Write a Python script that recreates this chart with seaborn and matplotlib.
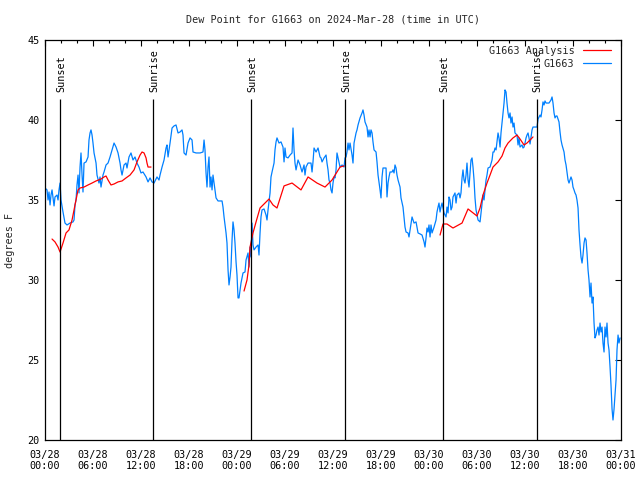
import numpy as np
import pandas as pd
import matplotlib
matplotlib.use("Agg")
import matplotlib.pyplot as plt
import matplotlib.dates as mdates
from matplotlib.lines import Line2D
import seaborn as sns

# ---------------- data (hours since 2024-03-28 00:00 UTC, deg F) ----------------
obs_hours = [0.0, 0.25, 0.38, 0.5, 0.63, 0.75, 0.88, 1.13, 1.25, 1.5, 1.63, 1.75, 1.88, 2.0, 2.25, 2.5, 2.75, 3.13, 3.5, 3.63,
             3.75, 3.88, 4.0, 4.13, 4.25, 4.38, 4.5, 4.63, 4.75, 4.88, 5.13, 5.38, 5.5, 5.63, 5.75, 5.88, 6.0, 6.13, 6.38, 6.5,
             6.75, 6.88, 7.0, 7.25, 7.38, 7.63, 7.88, 8.13, 8.38, 8.63, 8.88, 9.13, 9.38, 9.5, 9.63, 9.88, 10.13, 10.25, 10.5, 10.75,
             11.0, 11.25, 11.5, 11.75, 12.0, 12.25, 12.63, 12.88, 13.13, 13.38, 13.63, 14.0, 14.25, 14.38, 14.63, 14.88, 15.13, 15.25, 15.38, 15.63,
             15.88, 16.13, 16.38, 16.63, 16.88, 17.13, 17.25, 17.38, 17.63, 17.88, 18.13, 18.38, 18.5, 18.88, 19.38, 19.75, 19.88, 20.0, 20.13, 20.25,
             20.38, 20.5, 20.63, 20.75, 20.88, 21.0, 21.13, 21.38, 21.63, 22.13, 22.25, 22.38, 22.5, 22.63, 22.75, 22.88, 23.0, 23.13, 23.25, 23.38,
             23.5, 23.63, 23.75, 23.88, 24.0, 24.13, 24.25, 24.38, 24.5, 24.75, 25.0, 25.13, 25.38, 25.5, 25.63, 25.75, 25.88, 26.0, 26.13, 26.38,
             26.63, 26.75, 26.88, 27.0, 27.13, 27.38, 27.63, 27.75, 27.88, 28.13, 28.25, 28.38, 28.63, 28.75, 28.88, 29.0, 29.25, 29.5, 29.75, 29.88,
             30.0, 30.13, 30.38, 30.63, 30.88, 31.0, 31.13, 31.25, 31.38, 31.63, 31.88, 32.13, 32.38, 32.5, 32.63, 32.88, 33.25, 33.38, 33.5, 33.63,
             33.75, 33.88, 34.13, 34.38, 34.5, 34.63, 34.88, 35.13, 35.25, 35.38, 35.5, 35.63, 35.75, 35.88, 36.0, 36.13, 36.25, 36.38, 36.5, 36.63,
             36.88, 37.13, 37.38, 37.5, 37.63, 37.75, 37.88, 38.0, 38.13, 38.38, 38.5, 38.63, 38.88, 39.0, 39.13, 39.38, 39.63, 39.75, 39.88, 40.0,
             40.25, 40.38, 40.5, 40.63, 40.75, 40.88, 41.0, 41.13, 41.38, 41.5, 41.63, 41.75, 41.88, 42.0, 42.13, 42.25, 42.63, 42.75, 42.88, 43.0,
             43.13, 43.38, 43.5, 43.63, 43.75, 43.88, 44.0, 44.13, 44.38, 44.5, 44.75, 44.88, 45.0, 45.13, 45.38, 45.5, 45.63, 45.88, 46.0, 46.13,
             46.38, 46.5, 46.63, 46.88, 47.13, 47.38, 47.5, 47.63, 47.75, 47.88, 48.0, 48.13, 48.25, 48.38, 48.63, 48.88, 49.0, 49.13, 49.25, 49.38,
             49.5, 49.63, 49.88, 50.13, 50.25, 50.38, 50.5, 50.63, 50.75, 50.88, 51.0, 51.25, 51.38, 51.5, 51.75, 51.88, 52.0, 52.13, 52.25, 52.38,
             52.5, 52.63, 52.75, 52.88, 53.0, 53.13, 53.25, 53.38, 53.5, 53.63, 53.75, 53.88, 54.13, 54.38, 54.5, 54.63, 54.75, 54.88, 55.0, 55.13,
             55.25, 55.38, 55.63, 55.88, 56.0, 56.13, 56.25, 56.38, 56.5, 56.63, 56.75, 56.88, 57.0, 57.13, 57.25, 57.38, 57.5, 57.63, 57.75, 57.88,
             58.0, 58.13, 58.25, 58.38, 58.5, 58.63, 58.75, 59.0, 59.13, 59.25, 59.38, 59.63, 59.75, 59.88, 60.0, 60.13, 60.25, 60.38, 60.5, 60.63,
             60.88, 61.0, 61.5, 61.63, 61.88, 62.0, 62.13, 62.25, 62.38, 62.5, 62.63, 63.0, 63.25, 63.38, 63.5, 63.63, 63.75, 63.88, 64.0, 64.25,
             64.38, 64.5, 64.63, 64.88, 65.0, 65.13, 65.25, 65.38, 65.5, 65.63, 65.75, 65.88, 66.0, 66.13, 66.25, 66.38, 66.5, 66.63, 66.75, 66.88,
             67.0, 67.13, 67.25, 67.38, 67.5, 67.63, 67.75, 67.88, 68.0, 68.13, 68.25, 68.38, 68.5, 68.63, 68.75, 68.88, 69.0, 69.13, 69.25, 69.38,
             69.5, 69.63, 69.75, 69.88, 70.0, 70.13, 70.25, 70.38, 70.5, 70.63, 70.75, 70.88, 71.0, 71.13, 71.25, 71.38, 71.5, 71.63, 71.75, 71.88]
obs_values = [35.75, 35.63, 35.0, 35.5, 34.69, 35.31, 35.63, 34.63, 35.19, 35.31, 35.0, 35.63, 36.06, 35.0, 34.25, 33.56, 33.44, 33.56, 33.63, 33.75,
              34.69, 35.0, 35.94, 36.56, 35.44, 37.06, 37.94, 36.56, 35.5, 37.31, 37.38, 37.69, 38.75, 39.19, 39.38, 39.06, 38.56, 37.94, 37.31, 36.56,
              36.06, 36.44, 35.81, 36.56, 36.75, 37.19, 37.31, 37.69, 38.13, 38.56, 38.31, 37.94, 37.31, 36.88, 36.56, 37.19, 37.31, 37.0, 37.69, 37.94,
              37.5, 37.69, 37.31, 37.06, 36.69, 36.75, 36.44, 36.13, 36.38, 36.13, 36.06, 36.44, 36.25, 36.56, 37.06, 37.5, 38.25, 38.44, 37.69, 38.56,
              39.5, 39.63, 39.69, 39.19, 39.25, 39.38, 39.06, 37.94, 37.81, 38.56, 38.88, 38.75, 38.0, 37.94, 37.94, 38.0, 38.75, 38.13, 36.69, 35.81,
              37.06, 37.69, 35.81, 36.44, 35.63, 36.56, 36.06, 35.13, 34.94, 34.94, 34.56, 33.94, 33.44, 32.94, 32.31, 30.63, 29.69, 30.19, 30.81, 32.5,
              33.63, 33.13, 32.31, 31.13, 30.31, 28.88, 28.88, 29.38, 29.81, 30.44, 30.5, 31.25, 31.69, 30.81, 32.06, 31.44, 33.56, 32.19, 31.88, 32.06,
              32.19, 31.56, 32.94, 33.94, 34.38, 34.44, 34.06, 33.75, 34.38, 35.44, 36.44, 36.75, 37.31, 38.13, 38.63, 38.88, 38.56, 38.63, 38.31, 37.38,
              38.25, 37.69, 37.63, 37.81, 37.94, 39.5, 38.13, 37.31, 36.88, 37.5, 37.19, 36.75, 37.19, 36.56, 37.06, 37.31, 37.31, 36.75, 37.38, 38.25,
              38.13, 38.0, 38.25, 37.69, 37.63, 37.38, 37.63, 37.81, 37.31, 36.88, 36.25, 36.06, 35.63, 35.44, 36.06, 36.44, 36.38, 36.88, 37.94, 37.63,
              37.06, 37.19, 37.06, 37.63, 37.69, 38.0, 38.56, 38.13, 38.56, 37.81, 37.31, 38.56, 39.19, 39.38, 39.69, 40.13, 40.44, 40.63, 40.31, 39.88,
              39.56, 38.94, 39.38, 38.94, 39.38, 39.19, 38.63, 38.13, 38.0, 37.38, 36.56, 36.13, 35.63, 35.13, 36.44, 37.0, 37.0, 35.19, 36.06, 36.44,
              36.75, 36.75, 36.88, 36.69, 37.19, 37.0, 36.56, 36.25, 35.81, 35.13, 34.56, 33.94, 33.31, 33.0, 32.94, 32.69, 33.13, 33.94, 33.75, 33.56,
              33.63, 33.31, 32.94, 32.88, 32.81, 32.38, 32.06, 32.63, 33.25, 33.0, 33.44, 32.69, 33.44, 32.94, 33.31, 33.75, 34.25, 34.56, 34.81, 34.25,
              34.56, 34.81, 34.19, 33.94, 34.56, 34.19, 35.19, 35.0, 34.38, 34.56, 35.19, 35.44, 34.81, 35.31, 35.44, 35.13, 35.44, 36.38, 36.88, 36.25,
              36.06, 36.56, 37.31, 36.25, 35.81, 36.69, 37.5, 37.63, 37.06, 36.25, 35.13, 34.38, 33.75, 33.63, 34.19, 34.81, 35.31, 35.0, 35.63, 36.25,
              36.56, 37.0, 37.06, 37.5, 38.0, 38.0, 38.25, 38.13, 38.63, 39.19, 38.88, 38.31, 39.19, 39.81, 40.44, 41.06, 41.88, 41.75, 41.06, 40.44,
              40.13, 40.44, 39.81, 40.19, 39.56, 39.81, 39.19, 39.06, 38.44, 38.88, 38.31, 38.44, 38.25, 38.31, 38.56, 38.88, 39.06, 39.19, 38.88, 38.5,
              39.38, 39.56, 39.56, 40.06, 40.31, 40.19, 40.63, 41.13, 40.94, 41.19, 41.06, 41.06, 41.25, 41.44, 41.06, 40.44, 40.13, 40.25, 40.25, 39.88,
              39.25, 38.75, 38.44, 38.0, 37.5, 37.19, 36.75, 36.25, 36.06, 36.25, 36.44, 36.25, 35.81, 35.63, 35.44, 35.31, 35.0, 34.5, 33.13, 32.19,
              31.44, 31.06, 31.56, 32.31, 32.63, 32.5, 31.69, 30.63, 30.0, 28.94, 29.81, 28.56, 28.94, 27.31, 26.38, 26.56, 26.88, 27.06, 26.56, 27.31,
              26.75, 27.06, 26.06, 25.5, 27.06, 26.44, 27.31, 26.06, 25.63, 24.56, 23.44, 21.94, 21.25, 21.94, 22.81, 23.75, 25.63, 26.56, 26.06, 26.38]

ana_hours = [0.88, 1.25, 1.63, 1.88, 2.25, 2.63, 3.0, 3.38, 3.63, 3.75, 4.13, 4.38, 4.88, 5.38, 5.88, 6.38, 7.0, 7.38, 7.63, 7.88,
             8.25, 8.63, 9.13, 9.63, 10.13, 10.63, 11.13, 11.5, 11.88, 12.13, 12.38, 12.63, 12.75, 12.88, 13.25,
             24.88, 25.25, 25.5, 25.63, 26.0, 26.38, 26.88, 27.38, 28.0, 28.5, 29.0, 29.88, 30.88, 32.0, 32.88, 34.0, 35.0, 35.88, 36.88, 37.38,
             49.38, 49.75, 50.25, 51.0, 52.13, 52.88, 54.0, 54.38, 54.75, 55.25, 55.63, 56.0, 56.63, 57.13, 57.5, 57.88, 58.5, 59.0, 59.38, 59.88,
             60.25, 60.63, 61.0]
ana_values = [32.56, 32.38, 32.06, 31.75, 32.31, 32.94, 33.13, 33.75, 34.38, 34.69, 35.63, 35.75, 35.81, 35.94, 36.06, 36.19, 36.31, 36.44, 36.5, 36.25,
              35.94, 36.0, 36.13, 36.19, 36.38, 36.56, 36.88, 37.38, 37.81, 38.0, 37.94, 37.63, 37.31, 37.06, 37.06,
              29.31, 30.0, 30.94, 32.06, 32.94, 33.63, 34.5, 34.75, 35.06, 34.69, 34.5, 35.88, 36.06, 35.63, 36.44, 36.06, 35.81, 36.25, 37.06, 37.13,
              32.81, 33.5, 33.5, 33.25, 33.56, 34.44, 34.0, 34.5, 35.31, 36.06, 36.56, 37.06, 37.38, 37.75, 38.25, 38.56, 38.88, 39.06, 38.81, 38.44,
              38.56, 38.75, 38.94]
ana_segment = [1] * 35 + [2] * 20 + [3] * 23

sun_labels = ["Sunset", "Sunrise", "Sunset", "Sunrise", "Sunset", "Sunrise"]
sun_hours = [1.93, 13.55, 25.8, 37.55, 49.8, 61.45]

title = "Dew Point for G1663 on 2024-Mar-28 (time in UTC)"
ylabel = "degrees F"
series_labels = ["G1663 Analysis", "G1663"]
colors = ["#ff0000", "#0080ff"]

# ---------------- build frames ----------------
t0 = pd.Timestamp("2024-03-28 00:00")
obs = pd.DataFrame({"time": t0 + pd.to_timedelta(obs_hours, unit="h"), "value": obs_values})
ana = pd.DataFrame({"time": t0 + pd.to_timedelta(ana_hours, unit="h"), "value": ana_values,
                    "seg": ana_segment})
sun_times = t0 + pd.to_timedelta(sun_hours, unit="h")

sns.set_style("white")
plt.rcParams["font.family"] = ["DejaVu Sans Mono", "DejaVu Sans"]
FS = 7.3

fig = plt.figure(figsize=(6.4, 4.8), dpi=100)
ax = fig.add_axes([45 / 640, 1 - 440 / 480, 576 / 640, 400 / 480])

sns.lineplot(data=obs, x="time", y="value", ax=ax, color=colors[1], linewidth=0.9,
             estimator=None, sort=False)
sns.lineplot(data=ana, x="time", y="value", units="seg", ax=ax, color=colors[0],
             linewidth=0.9, estimator=None, sort=False)

ax.set_xlim(t0, t0 + pd.Timedelta(hours=72))
ax.set_ylim(20, 45)

# sunrise / sunset markers
ax.vlines(sun_times, 20, 41.3, colors="black", linewidth=0.9)
for t, lab in zip(sun_times, sun_labels):
    ax.text(t + pd.Timedelta(minutes=8), 41.75, lab, rotation=90, ha="center", va="bottom",
            fontsize=FS, color="black")

# axes styling
ax.xaxis.set_major_locator(mdates.HourLocator(byhour=[0, 6, 12, 18]))
ax.xaxis.set_minor_locator(mdates.HourLocator(interval=2))
ax.xaxis.set_major_formatter(mdates.DateFormatter("%m/%d\n%H:%M"))
ax.set_yticks([20, 25, 30, 35, 40, 45])
ax.tick_params(which="both", direction="in", top=True, right=True, colors="black",
               labelsize=FS, width=0.8)
ax.tick_params(which="major", length=4.5)
ax.tick_params(which="minor", length=2.2)
ax.tick_params(axis="x", which="major", pad=7)
ax.tick_params(axis="y", which="major", pad=4)
for s in ax.spines.values():
    s.set_color("black")
    s.set_linewidth(0.9)
ax.set_xlabel("")
ax.set_ylabel("")
ax.grid(False)

fig.text(333 / 640, 1 - 20 / 480, title, ha="center", va="center", fontsize=FS)
fig.text(10 / 640, 0.5, ylabel, rotation=90, ha="center", va="center", fontsize=FS)

handles = [Line2D([], [], color=colors[0], linewidth=0.9),
           Line2D([], [], color=colors[1], linewidth=0.9)]
ax.legend(handles, series_labels, loc="upper right", bbox_to_anchor=(0.986, 0.99),
          frameon=False, fontsize=FS, markerfirst=False, handlelength=2.8,
          handletextpad=0.8, labelspacing=0.28, borderaxespad=0.0, borderpad=0.2)

fig.savefig("out.png", dpi=100)
